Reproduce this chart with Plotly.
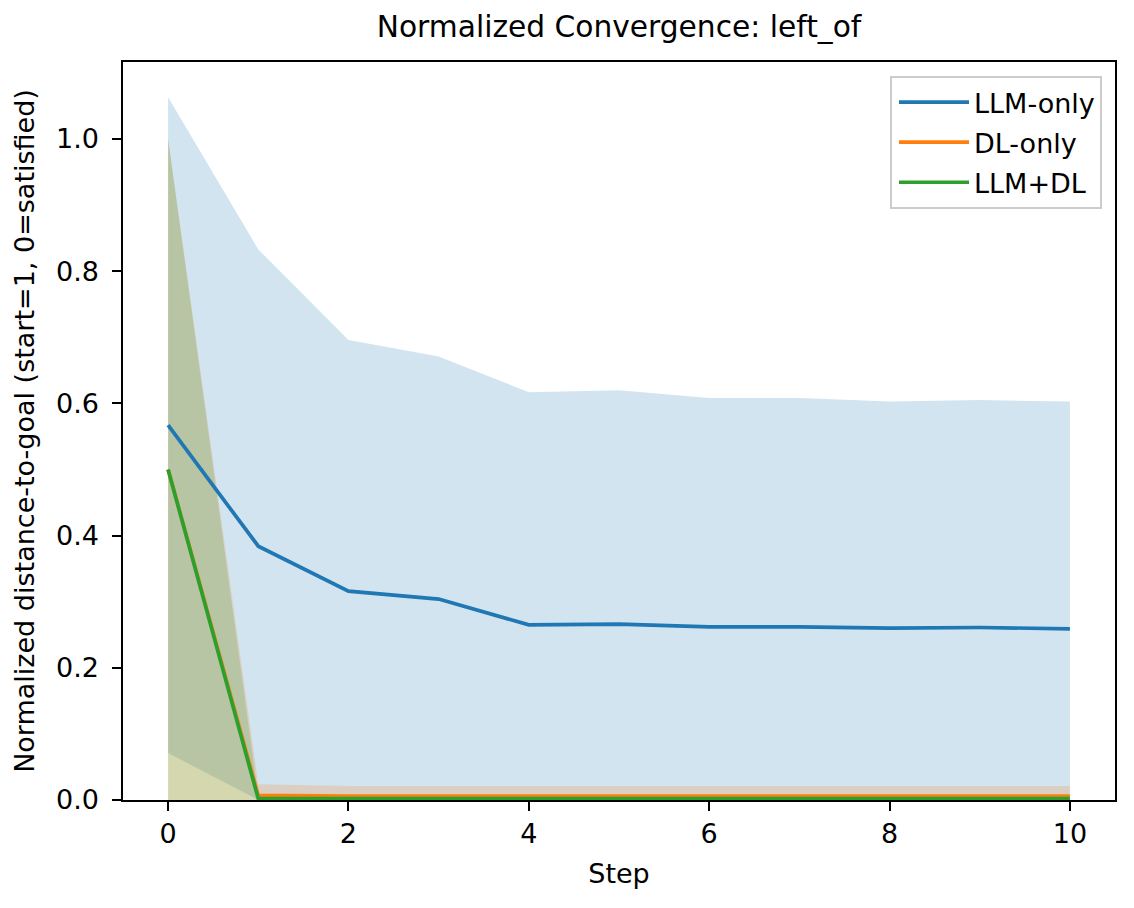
import plotly.graph_objects as go

steps = [0, 1, 2, 3, 4, 5, 6, 7, 8, 9, 10]

llm_mean = [0.567, 0.384, 0.316, 0.304, 0.265, 0.266, 0.262, 0.262, 0.260, 0.261, 0.259]
llm_upper = [1.063, 0.833, 0.696, 0.671, 0.617, 0.620, 0.608, 0.608, 0.603, 0.605, 0.603]
llm_lower = [0.071, 0.0, 0.0, 0.0, 0.0, 0.0, 0.0, 0.0, 0.0, 0.0, 0.0]

dl_mean = [0.500, 0.007, 0.006, 0.006, 0.006, 0.006, 0.006, 0.006, 0.006, 0.006, 0.006]
dl_upper = [1.000, 0.024, 0.021, 0.021, 0.021, 0.021, 0.021, 0.021, 0.021, 0.021, 0.021]
dl_lower = [0.0, 0.0, 0.0, 0.0, 0.0, 0.0, 0.0, 0.0, 0.0, 0.0, 0.0]

both_mean = [0.500, 0.002, 0.002, 0.002, 0.002, 0.002, 0.002, 0.002, 0.002, 0.002, 0.002]
both_upper = [1.000, 0.006, 0.006, 0.006, 0.006, 0.006, 0.006, 0.006, 0.006, 0.006, 0.006]
both_lower = [0.0, 0.0, 0.0, 0.0, 0.0, 0.0, 0.0, 0.0, 0.0, 0.0, 0.0]

x_ticks = [0, 2, 4, 6, 8, 10]
y_ticks = [0.0, 0.2, 0.4, 0.6, 0.8, 1.0]
y_tick_labels = ["0.0", "0.2", "0.4", "0.6", "0.8", "1.0"]

series = [
    ("LLM-only", llm_mean, llm_lower, llm_upper, "#1f77b4", "rgba(31,119,180,0.2)"),
    ("DL-only", dl_mean, dl_lower, dl_upper, "#ff7f0e", "rgba(255,127,14,0.2)"),
    ("LLM+DL", both_mean, both_lower, both_upper, "#2ca02c", "rgba(44,160,44,0.2)"),
]

FONT = "DejaVu Sans"
FS = 27
fig = go.Figure()
# bands first
for name, mean, lo, hi, color, fillc in series:
    fig.add_trace(go.Scatter(x=steps, y=lo, mode="lines", line=dict(width=0),
                             legendgroup=name, showlegend=False, hoverinfo="skip"))
    fig.add_trace(go.Scatter(x=steps, y=hi, mode="lines", line=dict(width=0),
                             fill="tonexty", fillcolor=fillc, legendgroup=name,
                             showlegend=False, hoverinfo="skip"))
# mean lines on top
for name, mean, lo, hi, color, fillc in series:
    fig.add_trace(go.Scatter(x=steps, y=mean, mode="lines", name=name,
                             legendgroup=name,
                             line=dict(color=color, width=3.7), showlegend=True))

fig.update_layout(
    width=1126, height=900,
    margin=dict(l=115, r=19, t=54, b=108),
    paper_bgcolor="white", plot_bgcolor="white",
    font=dict(family=FONT, size=FS, color="black"),
    title=dict(text="Normalized Convergence: left_of", x=0.5, xref="paper",
               xanchor="center", y=1, yref="paper", yanchor="bottom",
               pad=dict(b=25), font=dict(size=29.7, family=FONT, color="black")),
    showlegend=True,
    legend=dict(x=0.9869, y=0.981, xanchor="right", yanchor="top",
                traceorder="grouped", tracegroupgap=2, itemwidth=70,
                indentation=2,
                bgcolor="rgba(255,255,255,0.8)", bordercolor="#cccccc",
                borderwidth=2, font=dict(size=FS, family=FONT)),
)
fig.update_xaxes(range=[-0.5, 10.5], tickvals=x_ticks, ticks="outside", ticklen=8.6,
                 tickwidth=2, tickcolor="black", showline=True, linecolor="black",
                 linewidth=2, mirror=True, showgrid=False, zeroline=False,
                 title=dict(text="Step", standoff=16, font=dict(size=FS, family=FONT)))
fig.update_yaxes(range=[0, 1.1165], tickvals=y_ticks, ticktext=y_tick_labels,
                 ticks="outside", ticklen=8.6, ticklabelstandoff=8,
                 tickwidth=2, tickcolor="black", showline=True, linecolor="black",
                 linewidth=2, mirror=True, showgrid=False, zeroline=False,
                 title=dict(text="Normalized distance-to-goal (start=1, 0=satisfied)",
                            standoff=14, font=dict(size=FS, family=FONT)))

fig.write_html("out.html")
